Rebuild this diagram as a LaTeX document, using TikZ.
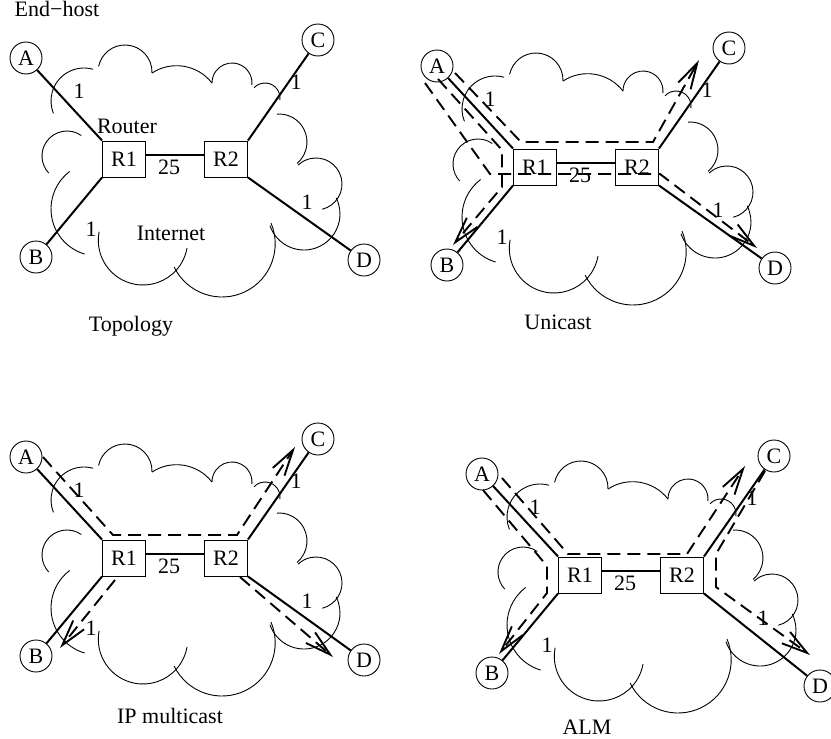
\documentclass[tikz,border=0pt]{standalone}
\usepackage{fontspec}
\setmainfont{Liberation Serif}
\usetikzlibrary{arrows.meta}

\tikzset{
  txt/.style={font=\fontsize{22}{24}\selectfont, inner sep=0pt},
  host/.style={txt, circle, draw, line width=0.9pt, minimum size=32pt},
  router/.style={txt, rectangle, draw, line width=0.9pt, minimum width=43pt, minimum height=36pt},
  link/.style={line width=2pt},
  cloudline/.style={line width=0.9pt},
  flow/.style={line width=1.9pt, dash pattern=on 13pt off 7pt,
    -{Straight Barb[length=26pt, width=14pt]}},
}

% one arc of the cloud outline: centre x, centre y (downwards), radius, start, end angle
\newcommand\cloudarc[5]{\draw[cloudline] (#1,-#2) ++(#4:#3) arc[start angle=#4, end angle=#5, radius=#3];}

% the network with its cloud; #1 name suffix, #2/#3 offset, #4 vertical place of D
\newcommand\netpanel[4]{%
  \begin{scope}[shift={(#2,-#3)}]
    \cloudarc{84}{101}{33}{74}{202}
    \cloudarc{125}{72}{27}{-2}{168}
    \cloudarc{176.6}{110.5}{44.8}{37.8}{123.3}
    \cloudarc{232}{83}{20}{-6}{180}
    \cloudarc{265}{98}{15}{-8}{137}
    \cloudarc{279}{142}{28}{-50}{94}
    \cloudarc{316}{184}{26}{-76}{133.5}
    \cloudarc{304}{214}{36}{199}{386.6}
    \cloudarc{222}{243.8}{53.2}{206}{383}
    \cloudarc{143}{240.3}{44.7}{169}{350}
    \cloudarc{98}{209}{47}{127}{253.5}
    \cloudarc{67}{156}{25}{55}{223}
    \node[host] (A#1) at (26,-58) {A};
    \node[host] (B#1) at (36,-257) {B};
    \node[host] (C#1) at (318,-40) {C};
    \node[host] (D#1) at (364,-#4) {D};
    \node[router] (ra#1) at (124,-159) {R1};
    \node[router] (rb#1) at (226,-159) {R2};
    \draw[link] (A#1) -- (ra#1.north west);
    \draw[link] (B#1) -- (ra#1.south west);
    \draw[link] (C#1) -- (rb#1.north east);
    \draw[link] (D#1) -- (rb#1.south east);
    \draw[link] ([yshift=4pt]ra#1.east) -- ([yshift=4pt]rb#1.west);
    \node[txt] (wa#1) at (79,-91) {1};
    \node[txt] (wb#1) at (91,-229) {1};
    \node[txt] (wc#1) at (296,-82) {1};
    \node[txt] (wd#1) at (307,-202) {1};
    \node[txt] (wr#1) at (169,-167) {25};
  \end{scope}}

\begin{document}
\begin{tikzpicture}[x=1pt, y=1pt]
  \fill[white] (0,0) rectangle (831,-739);
  \useasboundingbox (0,0) rectangle (831,-739);

  % Topology
  \netpanel{t}{0}{0}{260}
  \node[txt] (endhost) at (57,-9) {End\textminus host};
  \node[txt] (router) at (127,-126) {Router};
  \node[txt] (internet) at (171,-233) {Internet};
  \node[txt] (ttopo) at (131,-326) {Topology};

  % Unicast: one copy per receiver
  \netpanel{u}{411}{8}{260}
  \begin{scope}[shift={(411,-8)}]
    \coordinate (uc0) at (44,-65);  \coordinate (uc1) at (110,-134);
    \coordinate (uc2) at (242,-134); \coordinate (uc3) at (288,-52);
    \coordinate (ub0) at (27,-71);  \coordinate (ub1) at (91,-142);
    \coordinate (ub2) at (91,-179); \coordinate (ub3) at (42,-237);
    \coordinate (ud0) at (14,-75);  \coordinate (ud1) at (79,-166);
    \coordinate (ud2) at (249,-166); \coordinate (ud3) at (346,-240);
    \draw[flow] (uc0) -- (uc1) -- (uc2) -- (uc3);
    \draw[flow] (ub0) -- (ub1) -- (ub2) -- (ub3);
    \draw[flow] (ud0) -- (ud1) -- (ud2) -- (ud3);
  \end{scope}
  \node[txt] (tuni) at (558,-322) {Unicast};

  % IP multicast: routers duplicate the packet
  \netpanel{m}{0}{399}{261}
  \begin{scope}[shift={(0,-399)}]
    \coordinate (mc0) at (43,-58);  \coordinate (mc1) at (113,-136);
    \coordinate (mc2) at (237,-136); \coordinate (mc3) at (295,-48);
    \coordinate (mb0) at (115,-181); \coordinate (mb1) at (60,-249);
    \coordinate (md0) at (240,-178); \coordinate (md1) at (333,-258);
    \draw[flow] (mc0) -- (mc1) -- (mc2) -- (mc3);
    \draw[flow] (mb0) -- (mb1);
    \draw[flow] (md0) -- (md1);
  \end{scope}
  \node[txt] (tmul) at (170,-716) {IP multicast};

  % ALM: end hosts forward to each other
  \netpanel{a}{456}{416}{270}
  \begin{scope}[shift={(456,-416)}]
    \coordinate (ac0) at (46,-62);  \coordinate (ac1) at (112,-138);
    \coordinate (ac2) at (231,-138); \coordinate (ac3) at (289,-50);
    \coordinate (ab0) at (27,-74);  \coordinate (ab1) at (91,-150);
    \coordinate (ab2) at (91,-177); \coordinate (ab3) at (43,-238);
    \coordinate (ad0) at (309,-55); \coordinate (ad1) at (260,-138);
    \coordinate (ad2) at (260,-171); \coordinate (ad3) at (354,-239);
    \draw[flow] (ac0) -- (ac1) -- (ac2) -- (ac3);
    \draw[flow] (ab0) -- (ab1) -- (ab2) -- (ab3);
    \draw[flow] (ad0) -- (ad1) -- (ad2) -- (ad3);
  \end{scope}
  \node[txt] (talm) at (587,-727) {ALM};
\end{tikzpicture}
\end{document}
